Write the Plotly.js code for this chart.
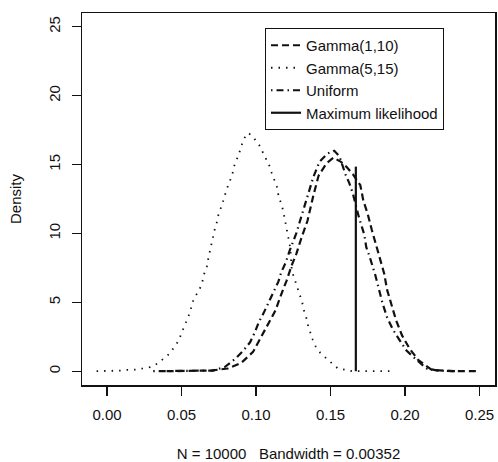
<!DOCTYPE html>
<html>
<head>
<meta charset="utf-8">
<script src="https://cdn.plot.ly/plotly-3.0.1.min.js"></script>
<style>html,body{margin:0;padding:0;background:#fff;}#chart{width:498px;height:462px;}</style>
</head>
<body>
<div id="chart"></div>
<script>
// Gamma(1,10) prior posterior density (dashed)
const gamma110X = [0.040, 0.060, 0.070, 0.081, 0.090, 0.098, 0.103, 0.107, 0.113, 0.117, 0.1206, 0.124, 0.127, 0.1307, 0.1345, 0.1386, 0.142, 0.1474, 0.152, 0.157, 0.161, 0.165, 0.170, 0.172, 0.175, 0.1776, 0.1805, 0.183, 0.186, 0.188, 0.191, 0.194, 0.198, 0.203, 0.209, 0.218, 0.232, 0.250];
const gamma110Y = [0.0, 0.02, 0.05, 0.2, 0.6, 1.4, 2.4, 3.3, 4.4, 5.6, 6.6, 7.7, 8.5, 9.75, 10.9, 12.8, 14.2, 15.1, 15.5, 15.2, 14.8, 14.3, 13.5, 12.4, 11.4, 10.3, 9.25, 8.2, 7.1, 5.9, 4.8, 3.7, 2.6, 1.65, 0.8, 0.1, 0.0, 0.0];

// Gamma(5,15) prior posterior density (dotted)
const gamma515X = [-0.007, -0.001, 0.004, 0.009, 0.014, 0.019, 0.024, 0.029, 0.034, 0.038, 0.042, 0.045, 0.048, 0.050, 0.052, 0.054, 0.056, 0.057, 0.059, 0.062, 0.064, 0.065, 0.067, 0.068, 0.069, 0.070, 0.071, 0.0725, 0.074, 0.075, 0.077, 0.0785, 0.080, 0.082, 0.084, 0.085, 0.087, 0.0886, 0.090, 0.092, 0.095, 0.0987, 0.102, 0.104, 0.107, 0.109, 0.1105, 0.112, 0.114, 0.115, 0.1165, 0.118, 0.119, 0.120, 0.121, 0.122, 0.123, 0.124, 0.1257, 0.127, 0.129, 0.131, 0.132, 0.1336, 0.1347, 0.136, 0.138, 0.140, 0.143, 0.147, 0.151, 0.155, 0.160, 0.165, 0.170, 0.174, 0.180, 0.185, 0.190];
const gamma515Y = [0.0, 0.0, 0.0, 0.05, 0.1, 0.12, 0.2, 0.3, 0.56, 0.9, 1.28, 1.74, 2.2, 2.77, 3.26, 3.8, 4.35, 4.9, 5.4, 5.9, 6.5, 7.0, 7.6, 8.2, 8.7, 9.25, 9.8, 10.4, 10.9, 11.5, 12.0, 12.6, 13.1, 13.7, 14.2, 14.8, 15.3, 15.8, 16.3, 16.9, 17.3, 16.9, 16.45, 16.0, 15.4, 14.9, 14.4, 13.9, 13.4, 12.8, 12.3, 11.75, 11.2, 10.6, 10.05, 9.5, 8.95, 7.3, 6.75, 6.2, 5.6, 5.0, 4.45, 3.95, 3.4, 2.9, 2.3, 1.8, 1.35, 0.95, 0.55, 0.2, 0.1, 0.0, 0.0, 0.0, 0.0, 0.0, 0.0];

// Uniform prior posterior density (dash-dot)
const uniformX = [0.031, 0.045, 0.0625, 0.071, 0.079, 0.086, 0.0915, 0.096, 0.0993, 0.102, 0.105, 0.108, 0.112, 0.115, 0.117, 0.120, 0.1224, 0.127, 0.1295, 0.1336, 0.136, 0.1385, 0.1426, 0.148, 0.1525, 0.156, 0.160, 0.1626, 0.165, 0.167, 0.169, 0.171, 0.1727, 0.174, 0.176, 0.180, 0.182, 0.185, 0.188, 0.192, 0.1955, 0.201, 0.208, 0.2145, 0.222, 0.235];
const uniformY = [0.0, 0.0, 0.0, 0.05, 0.3, 0.9, 1.5, 2.1, 2.85, 3.6, 4.2, 4.9, 5.75, 6.5, 7.2, 7.9, 8.7, 10.0, 10.9, 12.3, 13.1, 14.1, 15.2, 15.8, 16.0, 15.6, 14.3, 13.65, 12.9, 12.0, 11.2, 10.5, 9.9, 9.0, 8.4, 7.0, 6.1, 4.9, 3.9, 3.0, 2.4, 1.5, 0.8, 0.2, 0.05, 0.0];

// Maximum likelihood estimate (vertical line)
const mleX = [0.167, 0.167];
const mleY = [0.0, 14.85];

const seriesNames = ["Gamma(1,10)", "Gamma(5,15)", "Uniform", "Maximum likelihood"];
const xTicks = [0.00, 0.05, 0.10, 0.15, 0.20, 0.25];
const yTicks = [0, 5, 10, 15, 20, 25];
const xLabel = "N = 10000\u00a0\u00a0\u00a0Bandwidth = 0.00352";
const yLabel = "Density";

const FONT = "Liberation Sans, Arial, Helvetica, sans-serif";
const ink = "#111";

const traces = [
  {x: gamma110X, y: gamma110Y, name: seriesNames[0], mode: "lines",
   line: {color: ink, width: 2.2, dash: "7px,4px"}},
  {x: gamma515X, y: gamma515Y, name: seriesNames[1], mode: "lines", line: {color: ink, width: 1.8, dash: "1.5px,6px"}},
  {x: uniformX, y: uniformY, name: seriesNames[2], mode: "lines",
   line: {color: ink, width: 2.2, dash: "1.5px,4px,7px,4px"}},
  {x: mleX, y: mleY, name: seriesNames[3], mode: "lines", line: {color: ink, width: 2.2}}
];

const layout = {
  width: 498, height: 462,
  margin: {l: 82, r: 3, t: 13, b: 77, pad: 0},
  paper_bgcolor: "#fff", plot_bgcolor: "#fff",
  font: {family: FONT, size: 15, color: ink},
  showlegend: true,
  legend: {
    x: (265 - 82) / 413, y: (385 - 28) / 372, xanchor: "left", yanchor: "top",
    bgcolor: "#fff", bordercolor: ink, borderwidth: 1,
    font: {family: FONT, size: 15, color: ink},
    itemwidth: 30, tracegroupgap: 0
  },
  xaxis: {
    range: [-0.0168, 0.2604], tickvals: xTicks, tickformat: ".2f",
    showgrid: false, zeroline: false, showline: true, mirror: true,
    linecolor: ink, linewidth: 1.5, ticks: "outside", ticklen: 9, tickwidth: 1.2, tickcolor: ink,
    tickfont: {family: FONT, size: 15, color: ink}, ticklabelstandoff: 6,
    title: {text: xLabel, font: {family: FONT, size: 15, color: ink}, standoff: 28}
  },
  yaxis: {
    range: [-1, 26], tickvals: yTicks, tickangle: -90,
    showgrid: false, zeroline: false, showline: true, mirror: true,
    linecolor: ink, linewidth: 1.5, ticks: "outside", ticklen: 9, tickwidth: 1.2, tickcolor: ink,
    tickfont: {family: FONT, size: 15, color: ink}, ticklabelstandoff: 6,
    title: {text: yLabel, font: {family: FONT, size: 15, color: ink}, standoff: 20}
  }
};

Plotly.newPlot("chart", traces, layout, {staticPlot: true, displayModeBar: false});
</script>
</body>
</html>
